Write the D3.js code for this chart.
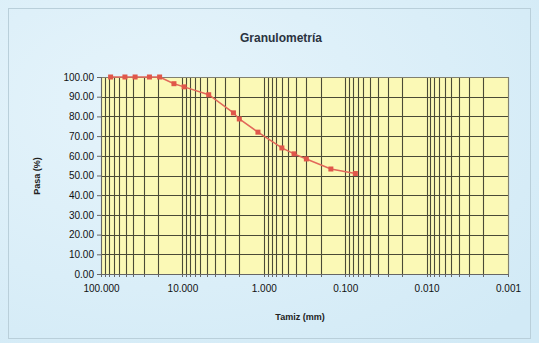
<!DOCTYPE html>
<html><head><meta charset="utf-8">
<script src="https://cdn.jsdelivr.net/npm/d3@7"></script>
<style>
html,body{margin:0;padding:0;background:#dcEFF8;}
svg{display:block;}
</style></head><body>
<svg id="c" width="539" height="343"></svg>
<script>
// Data
const sieveSizes = [76.2, 50.8, 38.1, 25.4, 19.05, 12.7, 9.525, 4.75, 2.36, 2.0, 1.18, 0.6, 0.425, 0.3, 0.15, 0.075];
const passing    = [100, 100, 100, 100, 100, 96.6, 95.0, 91.0, 81.8, 78.7, 72.0, 64.0, 61.0, 58.4, 53.3, 51.0];
const xTickValues = [100, 10, 1, 0.1, 0.01, 0.001];
const xTickLabels = ["100.000", "10.000", "1.000", "0.100", "0.010", "0.001"];
const yTickValues = [0, 10, 20, 30, 40, 50, 60, 70, 80, 90, 100];

const svg = d3.select("#c");
const W = 539, H = 343;
const m = {left: 101, right: 31, top: 77, bottom: 69};
const pw = W - m.left - m.right, ph = H - m.top - m.bottom;

// background
const defs = svg.append("defs");
const rg = defs.append("radialGradient").attr("id","bg").attr("cx","0.3").attr("cy","0.3").attr("r","0.9");
rg.append("stop").attr("offset","0").attr("stop-color","#e6f4fb");
rg.append("stop").attr("offset","1").attr("stop-color","#d2eaf6");
svg.append("rect").attr("width",W).attr("height",H).attr("fill","url(#bg)");
// chart frame
svg.append("rect").attr("x",8.5).attr("y",8.5).attr("width",522).attr("height",330)
  .attr("fill","none").attr("stroke","#b9cfda").attr("stroke-width",1);

const x = d3.scaleLog().domain([100, 0.001]).range([m.left, m.left + pw]);
const y = d3.scaleLinear().domain([0, 100]).range([m.top + ph, m.top]);

const g = svg.append("g");
g.append("rect").attr("x", m.left).attr("y", m.top).attr("width", pw).attr("height", ph)
  .attr("fill", "#fbf9b6");

// vertical grid at every log tick
const minor = [];
for (let e = -3; e <= 1; e++) for (let k = 1; k <= 9; k++) {
  const v = k * Math.pow(10, e);
  if (v >= 0.001 && v <= 100) minor.push(v);
}
minor.push(100);
g.selectAll("line.vg").data(minor).enter().append("line")
  .attr("x1", d => Math.round(x(d)) + 0.5).attr("x2", d => Math.round(x(d)) + 0.5)
  .attr("y1", m.top).attr("y2", m.top + ph)
  .attr("stroke", "#4a4a36").attr("stroke-width", 1.1);
// horizontal grid
g.selectAll("line.hg").data(yTickValues).enter().append("line")
  .attr("x1", m.left).attr("x2", m.left + pw)
  .attr("y1", d => Math.round(y(d)) + 0.5).attr("y2", d => Math.round(y(d)) + 0.5)
  .attr("stroke", "#4a4a36").attr("stroke-width", 1.1);

// plot border
g.append("rect").attr("x", m.left + 0.5).attr("y", m.top + 0.5).attr("width", pw).attr("height", ph)
  .attr("fill", "none").attr("stroke", "#808070").attr("stroke-width", 1);

// axes
const xAxis = d3.axisBottom(x).tickValues(xTickValues)
  .tickFormat((d, i) => xTickLabels[i]).tickSize(0).tickPadding(11);
const ax = svg.append("g").attr("transform", `translate(0,${m.top + ph})`).call(xAxis);
ax.select(".domain").attr("stroke", "#666");
ax.selectAll("text").attr("font-family", "Arial, 'Liberation Sans', sans-serif")
  .attr("font-size", 10).attr("fill", "#111");
// minor tick marks on x axis
svg.append("g").selectAll("line").data(minor).enter().append("line")
  .attr("x1", d => Math.round(x(d)) + 0.5).attr("x2", d => Math.round(x(d)) + 0.5)
  .attr("y1", m.top + ph).attr("y2", m.top + ph + 3).attr("stroke", "#666");

const yAxis = d3.axisLeft(y).tickValues(yTickValues).tickFormat(d3.format(".2f"))
  .tickSize(4).tickPadding(3);
const ay = svg.append("g").attr("transform", `translate(${m.left},0)`).call(yAxis);
ay.select(".domain").attr("stroke", "#666");
ay.selectAll(".tick line").attr("stroke", "#666");
ay.selectAll("text").attr("font-family", "Arial, 'Liberation Sans', sans-serif")
  .attr("font-size", 10).attr("fill", "#111");

// series
const pts = sieveSizes.map((s, i) => [s, passing[i]]);
svg.append("path").datum(pts)
  .attr("d", d3.line().x(d => x(d[0])).y(d => y(d[1])))
  .attr("fill", "none").attr("stroke", "#e2685a").attr("stroke-width", 1.5);
svg.selectAll("rect.mk").data(pts).enter().append("rect")
  .attr("x", d => x(d[0]) - 2.5).attr("y", d => y(d[1]) - 2.5)
  .attr("width", 5).attr("height", 5).attr("fill", "#e0574a");

// titles
svg.append("text").attr("x", 281).attr("y", 42).attr("text-anchor", "middle")
  .attr("font-family", "Arial, 'Liberation Sans', sans-serif").attr("font-weight", "bold")
  .attr("font-size", 12).attr("fill", "#2a3340").text("Granulometría");
svg.append("text").attr("x", 300).attr("y", 320).attr("text-anchor", "middle")
  .attr("font-family", "Arial, 'Liberation Sans', sans-serif").attr("font-weight", "bold")
  .attr("font-size", 9).attr("fill", "#222").text("Tamiz (mm)");
svg.append("text").attr("transform", "translate(40,176) rotate(-90)").attr("text-anchor", "middle")
  .attr("font-family", "Arial, 'Liberation Sans', sans-serif").attr("font-weight", "bold")
  .attr("font-size", 9).attr("fill", "#222").text("Pasa (%)");
</script>
</body></html>
